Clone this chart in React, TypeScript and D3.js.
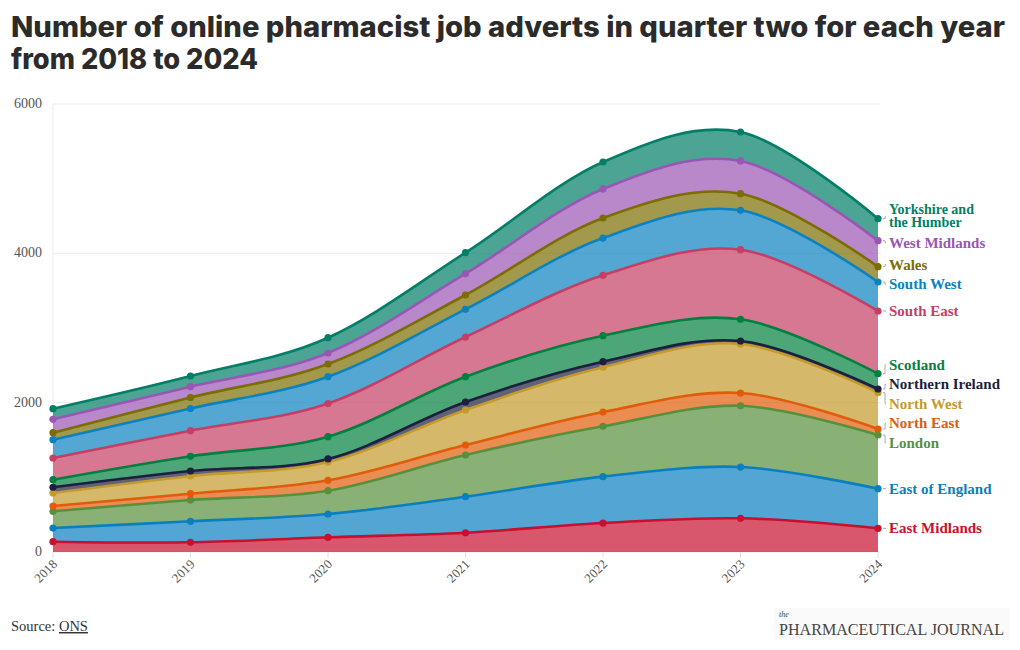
import React from "react";
import * as d3 from "d3";

// ---- Data (job adverts per region, Q2 each year) ----
const years = [2018, 2019, 2020, 2021, 2022, 2023, 2024];
const eastMidlands = [138, 130, 197, 258, 388, 451, 317];
const eastOfEngland = [183, 281, 312, 483, 621, 687, 531];
const london = [224, 285, 312, 558, 674, 821, 719];
const northEast = [71, 85, 139, 134, 192, 170, 80];
const northWest = [174, 237, 245, 469, 599, 657, 487];
const northernIreland = [77, 67, 41, 107, 75, 40, 49];
const scotland = [101, 197, 298, 339, 348, 291, 205];
const southEast = [291, 343, 445, 531, 809, 932, 840];
const southWest = [245, 297, 359, 371, 499, 527, 388];
const wales = [94, 147, 170, 192, 268, 223, 205];
const westMidlands = [179, 145, 147, 285, 389, 438, 348];
const yorkshire = [142, 143, 205, 282, 361, 388, 295];
const yTicks = [0, 2000, 4000, 6000];

const regionNames = [
  "East Midlands",
  "East of England",
  "London",
  "North East",
  "North West",
  "Northern Ireland",
  "Scotland",
  "South East",
  "South West",
  "Wales",
  "West Midlands",
  "Yorkshire and the Humber",
];
const regionValues = [
  eastMidlands,
  eastOfEngland,
  london,
  northEast,
  northWest,
  northernIreland,
  scotland,
  southEast,
  southWest,
  wales,
  westMidlands,
  yorkshire,
];
const regionColors = [
  "#c8102e",
  "#0a7fc0",
  "#57903c",
  "#e05c0a",
  "#c49a2c",
  "#1c1f3d",
  "#00803f",
  "#c63e64",
  "#0b82c0",
  "#7b6d00",
  "#9a55b5",
  "#007f66",
];

const W = 1020;
const H = 650;
const M = { left: 53, right: 878, top: 104, bottom: 552 };

export default function App() {
  const x = d3.scaleLinear().domain([2018, 2024]).range([M.left, M.right]);
  const y = d3.scaleLinear().domain([0, 6000]).range([M.bottom, M.top]);

  const table = years.map((yr, i) => {
    const row: any = { year: yr };
    regionNames.forEach((n, k) => (row[n] = regionValues[k][i]));
    return row;
  });
  const stacked = d3.stack<any>().keys(regionNames)(table);

  const curve = d3.curveCardinal.tension(0);
  const area = d3
    .area<any>()
    .x((d) => x(d.data.year))
    .y0((d) => y(d[0]))
    .y1((d) => y(d[1]))
    .curve(curve);
  const line = d3
    .line<any>()
    .x((d) => x(d.data.year))
    .y((d) => y(d[1]))
    .curve(curve);

  // label placement (dodge clusters)
  const last = years.length - 1;
  const items = stacked.map((s, k) => ({
    k,
    target: y(s[last][1]),
    h: k === 11 ? 32 : 19.5,
    pos: 0,
  }));
  const sorted = [...items].sort((a, b) => a.target - b.target);
  type Cl = { members: typeof items; top: number; height: number };
  const clusters: Cl[] = [];
  for (const it of sorted) {
    clusters.push({ members: [it], top: it.target - it.h / 2, height: it.h });
    let merged = true;
    while (merged && clusters.length > 1) {
      merged = false;
      const a = clusters[clusters.length - 2];
      const b = clusters[clusters.length - 1];
      if (a.top + a.height > b.top) {
        const members = [...a.members, ...b.members];
        const height = a.height + b.height;
        let acc = 0;
        let off = 0;
        const offs: number[] = [];
        members.forEach((m) => {
          offs.push(off + m.h / 2);
          off += m.h;
        });
        members.forEach((m, i) => (acc += m.target - offs[i]));
        const top = acc / members.length;
        clusters.splice(clusters.length - 2, 2, { members, top, height });
        merged = true;
      }
    }
  }
  clusters.forEach((c) => {
    let off = c.top;
    c.members.forEach((m) => {
      m.pos = off + m.h / 2;
      off += m.h;
    });
  });

  const labelX = 889;

  return (
    <svg
      width={W}
      height={H}
      style={{ position: "absolute", left: 0, top: 0, background: "#fff" }}
    >
      {/* title */}
      <g fontFamily="Inter, 'Open Sans', sans-serif" fontWeight={800} fill="#2b2b2b">
        <text x={11} y={37} fontSize={28} textLength={994} lengthAdjust="spacingAndGlyphs">
          Number of online pharmacist job adverts in quarter two for each year
        </text>
        <text x={11} y={69} fontSize={28} textLength={247} lengthAdjust="spacingAndGlyphs">
          from 2018 to 2024
        </text>
      </g>

      {/* grid */}
      <g>
        {yTicks.map((t) => (
          <line
            key={t}
            x1={M.left}
            x2={M.right + 3}
            y1={y(t)}
            y2={y(t)}
            stroke="#ebebeb"
            strokeWidth={1}
          />
        ))}
        <line x1={M.left} x2={M.left} y1={M.top} y2={M.bottom} stroke="#ebebeb" />
        {years.map((yr) => (
          <line
            key={yr}
            x1={x(yr)}
            x2={x(yr)}
            y1={M.bottom}
            y2={M.bottom + 6}
            stroke="#e2e2e2"
          />
        ))}
      </g>

      {/* areas */}
      <g>
        {stacked.map((s, k) => (
          <path key={k} d={area(s) || ""} fill={regionColors[k]} fillOpacity={0.7} stroke="none" />
        ))}
      </g>
      {/* lines */}
      <g>
        {stacked.map((s, k) => (
          <path
            key={k}
            d={line(s) || ""}
            fill="none"
            stroke={regionColors[k]}
            strokeWidth={2.6}
          />
        ))}
      </g>
      {/* markers */}
      <g>
        {stacked.map((s, k) =>
          s.map((d: any, i: number) => (
            <circle
              key={k + "-" + i}
              cx={x(d.data.year)}
              cy={y(d[1])}
              r={3.6}
              fill={regionColors[k]}
            />
          ))
        )}
      </g>

      {/* y axis labels */}
      <g fontFamily="'Liberation Serif', serif" fontSize={14} fill="#555" textAnchor="end">
        {yTicks.map((t) => (
          <text key={t} x={42} y={y(t) + 4}>
            {t}
          </text>
        ))}
      </g>
      {/* x axis labels */}
      <g fontFamily="'Liberation Serif', serif" fontSize={13} fill="#555" textAnchor="end">
        {years.map((yr) => (
          <text key={yr} transform={`translate(${x(yr) + 5},${M.bottom + 13}) rotate(-45)`}>
            {yr}
          </text>
        ))}
      </g>

      {/* end labels */}
      <g fontFamily="'Liberation Serif', serif" fontWeight={700} fontSize={15}>
        {items.map((it) => {
          const c = regionColors[it.k];
          const name = regionNames[it.k];
          const px = M.right + 3;
          const connector =
            Math.abs(it.pos - it.target) < 1.5
              ? `M${px + 2},${it.target}H${labelX - 3}`
              : `M${px + 2},${it.target}H${px + 4}V${it.pos}H${labelX - 3}`;
          return (
            <g key={it.k}>
              <path d={connector} stroke="#aaa" strokeWidth={1} fill="none" />
              {it.k === 11 ? (
                <g fontSize={14}>
                  <text x={labelX} y={it.pos - 2.5} fill={c}>
                    Yorkshire and
                  </text>
                  <text x={labelX} y={it.pos + 10.5} fill={c}>
                    the Humber
                  </text>
                </g>
              ) : (
                <text x={labelX} y={it.pos + 5} fill={c}>
                  {name}
                </text>
              )}
            </g>
          );
        })}
      </g>

      {/* source */}
      <g fontFamily="'Liberation Serif', serif" fill="#333" fontSize={14.5}>
        <text x={11} y={631}>
          Source: <tspan textDecoration="underline">ONS</tspan>
        </text>
      </g>
      {/* logo */}
      <rect x={774} y={608} width={236} height={32} fill="#fafafa" />
      <g fontFamily="'Liberation Serif', serif" fill="#444">
        <text x={779} y={617} fontSize={8} fontStyle="italic">
          the
        </text>
        <text x={779} y={635} fontSize={17} textLength={225} lengthAdjust="spacingAndGlyphs">
          PHARMACEUTICAL JOURNAL
        </text>
      </g>
    </svg>
  );
}
